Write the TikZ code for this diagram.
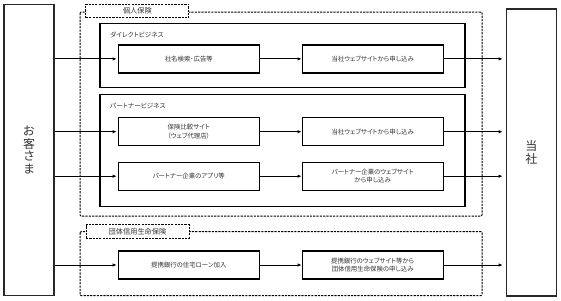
\documentclass[tikz,border=0pt]{standalone}
\usepackage{fontspec}
\setmainfont{Noto Sans CJK JP}[RawFeature=+palt]
\usetikzlibrary{arrows.meta, positioning, calc}
\definecolor{mytext}{RGB}{50,50,50}
\definecolor{myframe}{RGB}{40,40,40}
\tikzset{
  party/.style={rectangle, draw=myframe, line width=1.3pt, minimum width=50pt,
    align=center, inner sep=0pt, text=mytext,
    font=\fontsize{12}{12.5}\selectfont},
  stepbox/.style={rectangle, draw=black, line width=1.2pt, minimum width=141pt,
    minimum height=28pt, align=center, inner sep=0pt, text=mytext,
    font=\fontsize{6.4}{8.5}\selectfont},
  bizframe/.style={draw=black, line width=1.2pt},
  bizlabel/.style={anchor=west, inner sep=0pt, text=mytext,
    font=\fontsize{6.6}{8}\selectfont},
  groupframe/.style={draw=black, line width=1pt, dash pattern=on 2.2pt off 1.1pt,
    rounded corners=1pt},
  grouptag/.style={rectangle, draw=black, line width=1pt, dash pattern=on 2.2pt off 1.1pt,
    fill=white, minimum width=103pt, minimum height=13.4pt, inner sep=0pt,
    text=mytext, font=\fontsize{7.2}{8}\selectfont},
  arrow/.style={-{Latex[length=4pt,width=3.4pt]}, line width=0.9pt, color=black}
}
\begin{document}
\begin{tikzpicture}[x=1pt, y=-1pt]
  \useasboundingbox (0,0) rectangle (561,300);

  % both parties
  \node[party, minimum height=291pt] (customer) at (29,150) {お\\客\\さ\\ま};
  \node[party, minimum height=287pt] (company) at (531.3,152.6) {当\\社};

  % personal insurance group
  \draw[groupframe] (80,12) rectangle (482,216);
  \node[grouptag] (personal) at (137.4,11) {個人保険};

  % direct business
  \draw[bizframe] (100,23.3) rectangle (465,87.3);
  \node[bizlabel] (direct) at (110,35) {ダイレクトビジネス};
  \node[stepbox] (search) at (188.8,58.9) {社名検索･広告等};
  \node[stepbox] (ownweb) at (372.7,58.9) {当社ウェブサイトから申し込み};

  % partner business
  \draw[bizframe] (100,94.3) rectangle (465,206.7);
  \node[bizlabel] (partner) at (110,106) {パートナービジネス};
  \node[stepbox] (compare) at (188.8,131.7) {保険比較サイト\\（ウェブ代理店）};
  \node[stepbox] (ownweb2) at (372.7,131.7) {当社ウェブサイトから申し込み};
  \node[stepbox] (app) at (188.8,176.2) {パートナー企業のアプリ等};
  \node[stepbox] (partnerweb) at (372.7,176.2) {パートナー企業のウェブサイト\\から申し込み};

  % group credit life insurance
  \draw[groupframe] (80,231.7) rectangle (482,295.7);
  \node[grouptag] (groupcredit) at (137.5,231.3) {団体信用生命保険};
  \node[stepbox] (loan) at (188.8,265) {提携銀行の住宅ローン加入};
  \node[stepbox] (bankweb) at (372.7,265) {提携銀行のウェブサイト等から\\団体信用生命保険の申し込み};

  % connectors
  \foreach \from/\to in {search/ownweb, compare/ownweb2, app/partnerweb, loan/bankweb} {
    \draw[arrow, shorten >=1pt] (customer.east |- \from.west) -- (\from.west);
    \draw[arrow] (\from.east) -- (\to.west);
    \draw[arrow, shorten >=3pt] (\to.east) -- (company.west |- \to.east);
  }
\end{tikzpicture}
\end{document}
